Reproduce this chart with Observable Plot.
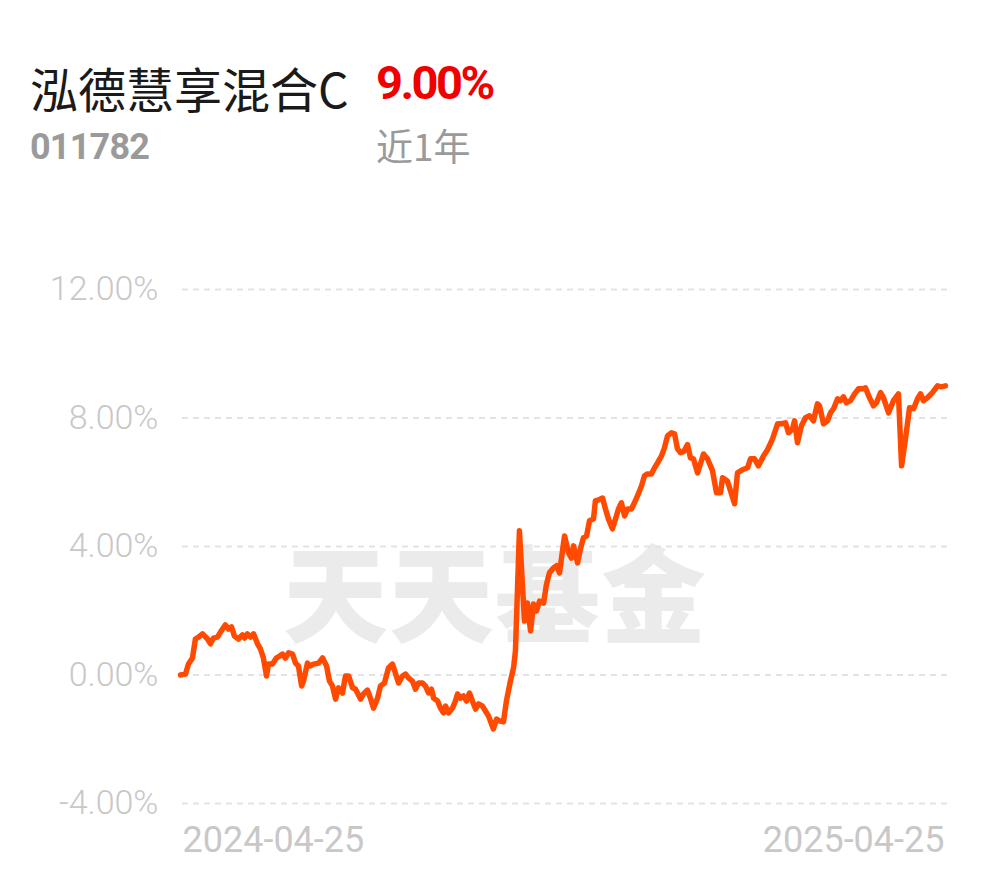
<!DOCTYPE html>
<html>
<head>
<meta charset="utf-8">
<script src="https://cdn.jsdelivr.net/npm/d3@7"></script>
<script src="https://cdn.jsdelivr.net/npm/@observablehq/plot@0.6"></script>
<style>
  html, body { margin: 0; padding: 0; background: #fff; }
  #wrap { position: relative; width: 990px; height: 878px; overflow: hidden; }
  .t { position: absolute; white-space: nowrap; line-height: 1; }
  #name { left: 30px; top: 52px; font: 400 48px "Noto Sans CJK SC", sans-serif; color: #1a1a1a; }
  #ret { left: 376px; top: 55px; font: 700 47px Roboto, sans-serif; color: #f00000; letter-spacing: -2.5px; }
  #code { left: 30px; top: 126px; font: 700 36px Roboto, sans-serif; color: #9a9a9a; letter-spacing: -0.8px; }
  #period { left: 376px; top: 118px; font: 400 37px "Noto Sans CJK SC", sans-serif; color: #9a9a9a; }
  #wm { left: 283px; top: 512px; font: 900 105px "Noto Sans CJK SC", sans-serif; color: #ebebeb; letter-spacing: 1px; z-index: 0; }
  #chart { position: absolute; left: 0; top: 200px; z-index: 1; }
</style>
</head>
<body>
<div id="wrap">
  <div class="t" id="name">泓德慧享混合C</div>
  <div class="t" id="ret">9.00%</div>
  <div class="t" id="code">011782</div>
  <div class="t" id="period">近1年</div>
  <div class="t" id="wm">天天基金</div>
  <div id="chart"></div>
</div>
<script>
// Days since 2024-04-25
const days = [
  0, 2.4, 3.8, 5.7, 7.1, 8.6, 10.5, 12.9, 14.3, 15.7, 17.6, 20.0, 21.4, 22.9, 24.3, 25.7, 27.6, 29.5, 30.5, 31.9,
  33.4, 34.8, 36.7, 38.1, 39.5, 41.0, 41.9, 43.8, 45.7, 47.2, 48.6, 50.0, 51.5, 53.4, 54.8, 56.2, 57.7, 58.6, 60.5, 61.9,
  63.4, 65.8, 67.7, 69.6, 71.0, 72.4, 73.9, 75.3, 77.2, 78.6,
  80.1, 82.0, 83.4, 85.8, 87.2, 89.1, 90.5, 92.0, 93.9, 95.3, 97.2, 99.1, 101.0, 102.4, 103.9, 105.8, 107.2, 108.6, 110.5, 112.0,
  113.4, 115.3, 116.7, 118.2, 119.6, 120.6, 122.5, 123.9, 125.3, 126.3, 127.7, 129.6, 131.0, 132.0, 133.4, 134.8, 136.3, 137.7, 139.1, 140.6,
  142.0, 143.9, 145.3, 146.8, 149.1, 150.6, 152.0, 153.9, 155.3, 157.2, 158.7, 159.6, 161.5,
  163.9, 165.3, 166.8, 168.2, 169.6, 171.1, 173.0, 174.4, 175.8, 177.7, 179.2, 180.6, 182.0, 183.0, 184.9, 186.3, 187.3, 189.2, 190.6, 192.0,
  193.5, 194.9, 196.8, 197.7, 199.2, 201.1, 202.5, 203.9, 205.8, 207.3, 208.7, 210.1, 211.6, 213.0, 214.9, 216.3, 217.8, 219.7, 221.1, 222.5,
  224.4, 225.9, 227.3, 229.2, 230.6, 232.1, 234.0, 235.4, 236.8, 238.3, 239.7, 241.6, 243.0, 244.4, 246.4,
  249.2, 251.1, 253.5, 255.4, 257.3, 258.3, 260.6, 262.1, 264.0, 265.4, 267.8, 270.2, 271.6, 273.5, 275.4, 277.8, 279.7, 282.1, 284.5, 286.4,
  288.3, 289.7, 291.6, 292.6, 294.0, 295.9, 297.8, 299.7, 301.6, 303.5, 304.5, 306.4, 308.3, 309.7, 311.2, 313.1, 314.5, 315.9, 317.3, 319.3,
  321.2, 323.1, 325.0, 326.4, 327.9, 330.2, 331.6, 333.6, 335.0, 337.4, 339.7, 342.1, 343.6, 345.5, 347.4, 349.3, 351.2, 352.6, 354.0, 355.9,
  358.3, 360.7, 362.6, 364.5
];
// Cumulative return, percent
const returns = [
  0.00, 0.03, 0.34, 0.53, 1.12, 1.18, 1.28, 1.12, 0.97, 1.15, 1.18, 1.43, 1.56, 1.43, 1.50, 1.21, 1.12, 1.25, 1.15, 1.28,
  1.18, 1.28, 0.97, 0.81, 0.53, -0.03, 0.34, 0.34, 0.53, 0.59, 0.65, 0.53, 0.69, 0.65, 0.37, 0.28, -0.34, -0.19, 0.37, 0.28,
  0.34, 0.37, 0.53, 0.28, -0.19, -0.34, -0.75, -0.40, -0.56, -0.03,
  -0.03, -0.40, -0.44, -0.75, -0.59, -0.47, -0.72, -1.03, -0.72, -0.34, -0.25, 0.22, 0.34, 0.06, -0.25, -0.03, 0.03, -0.09, -0.19, -0.44,
  -0.25, -0.25, -0.34, -0.56, -0.44, -0.72, -0.81, -1.03, -1.18, -0.97, -1.18, -1.03, -0.81, -0.59, -0.72, -0.65, -0.81, -0.56, -0.81, -1.06,
  -0.90, -0.97, -1.12, -1.28, -1.68, -1.37, -1.43, -1.46, -0.81, -0.19, 0.22, 0.75, 4.49,
  1.68, 2.24, 1.37, 2.21, 1.99, 2.30, 2.24, 2.83, 3.18, 3.33, 3.40, 3.18, 3.86, 4.33, 3.80, 3.64, 4.02, 3.49, 3.93, 4.27,
  4.33, 4.80, 4.86, 5.42, 5.45, 5.51, 5.17, 4.86, 4.55, 4.86, 5.17, 5.36, 4.95, 5.17, 5.17, 5.36, 5.58, 5.89, 6.20, 6.26,
  6.26, 6.45, 6.60, 6.82, 7.07, 7.45, 7.54, 7.51, 7.04, 6.92, 6.95, 7.17, 6.76, 6.73, 6.29,
  6.88, 6.73, 6.36, 5.67, 5.67, 6.14, 6.04, 5.73, 5.33, 6.29, 6.39, 6.45, 6.73, 6.73, 6.51, 6.82, 7.01, 7.35, 7.82, 7.82,
  7.85, 7.54, 7.66, 7.91, 7.23, 7.76, 8.01, 8.07, 7.91, 8.44, 8.38, 7.82, 7.91, 8.16, 8.29, 8.60, 8.54, 8.66, 8.47, 8.54,
  8.75, 8.91, 8.91, 8.94, 8.69, 8.38, 8.47, 8.79, 8.63, 8.16, 8.54, 8.75, 6.51, 7.38, 8.32, 8.29, 8.60, 8.75, 8.54, 8.63,
  8.79, 9.00, 8.97, 9.00
];
const yTicks = [-4, 0, 4, 8, 12];
const startLabel = "2024-04-25";
const endLabel = "2025-04-25";
const spanDays = 365;

const data = days.map((d, i) => ({ d, v: returns[i] }));

const chart = Plot.plot({
  width: 990,
  height: 678,
  marginTop: 89,
  marginBottom: 75,
  marginLeft: 180,
  marginRight: 44,
  x: { domain: [0, spanDays], axis: null },
  y: { domain: [-4, 12], ticks: yTicks, tickFormat: d => d.toFixed(2) + "%" },
  style: { fontFamily: "Roboto, sans-serif", background: "transparent", overflow: "visible" },
  marks: [
    Plot.ruleY(yTicks, { stroke: "#e3e3e3", strokeWidth: 2, strokeDasharray: "6,5", x1: 0, x2: spanDays, dx: 2 }),
    Plot.axisY({ ticks: yTicks, tickSize: 0, tickPadding: 22, fontSize: 34, fontWeight: 300, fill: "#c8c8c8", tickFormat: d => d.toFixed(2) + "%", label: null }),
    Plot.line(data, { x: "d", y: "v", stroke: "#ff4a00", strokeWidth: 5.5, strokeLinejoin: "round", strokeLinecap: "round" }),
    Plot.text([0], { x: d => d, frameAnchor: "bottom", text: () => startLabel, textAnchor: "start", lineAnchor: "bottom", dy: 48, dx: 2, fontSize: 36, fill: "#c8c8c8" }),
    Plot.text([spanDays], { x: d => d, frameAnchor: "bottom", text: () => endLabel, textAnchor: "end", lineAnchor: "bottom", dy: 48, dx: -2, fontSize: 36, fill: "#c8c8c8" })
  ]
});
document.getElementById("chart").appendChild(chart);
</script>
</body>
</html>
